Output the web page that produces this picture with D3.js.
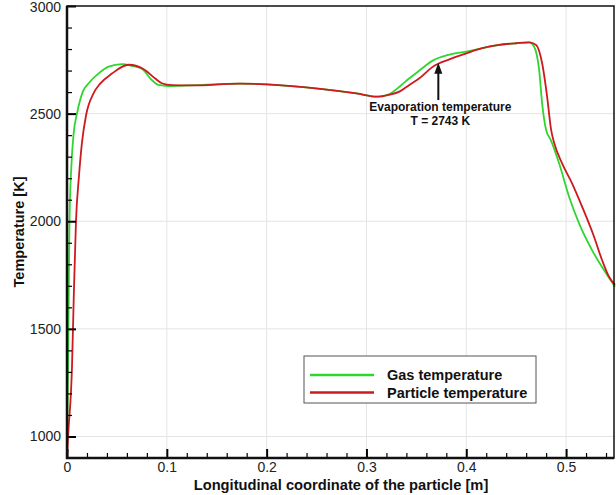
<!DOCTYPE html>
<html>
  <head>
    <script src="https://d3js.org/d3.v7.min.js"></script>
    <style>
      body { margin: 0; background: #fff; }
      text { font-family: Arial, "Liberation Sans", sans-serif; }
    </style>
  </head>
  <body>
<script type="text/javascript">
// values: [x in m, T in K]
var gasTemp = [
  [0, 920], [0.001, 1300], [0.0018, 1700], [0.0025, 2000], [0.0043, 2250],
  [0.0067, 2410], [0.010, 2500], [0.0157, 2600], [0.0217, 2641], [0.0317, 2687],
  [0.0417, 2718], [0.055, 2730], [0.065, 2722], [0.075, 2708], [0.085, 2656],
  [0.0917, 2633], [0.1017, 2628], [0.123, 2631], [0.173, 2639], [0.2, 2636],
  [0.256, 2614], [0.29, 2594], [0.311, 2579], [0.323, 2591], [0.333, 2625],
  [0.343, 2664], [0.353, 2700], [0.366, 2745], [0.383, 2774], [0.4, 2788],
  [0.416, 2804], [0.433, 2819], [0.45, 2827], [0.463, 2831], [0.468, 2811],
  [0.473, 2703], [0.476, 2548], [0.48, 2424], [0.4847, 2377], [0.493, 2269],
  [0.503, 2114], [0.513, 1990], [0.526, 1866], [0.54, 1758], [0.549, 1696]
];
var particleTemp = [
  [0, 905], [0.0013, 1016], [0.005, 1323], [0.0067, 1634], [0.009, 2000],
  [0.012, 2210], [0.015, 2365], [0.019, 2490], [0.0267, 2595], [0.033, 2638],
  [0.045, 2686], [0.0617, 2727], [0.078, 2703], [0.088, 2664], [0.095, 2641],
  [0.105, 2632], [0.125, 2631], [0.173, 2639], [0.2, 2636], [0.256, 2614],
  [0.29, 2594], [0.311, 2579], [0.323, 2588], [0.333, 2602], [0.343, 2633],
  [0.353, 2664], [0.366, 2716], [0.383, 2752], [0.4, 2780], [0.416, 2804],
  [0.433, 2819], [0.45, 2827], [0.463, 2831], [0.47, 2819], [0.476, 2734],
  [0.481, 2579], [0.485, 2424], [0.488, 2365], [0.496, 2269], [0.506, 2176],
  [0.516, 2068], [0.528, 1928], [0.536, 1820], [0.543, 1742], [0.549, 1704]
];
var seriesNames = ['Gas temperature', 'Particle temperature'];
var seriesColors = ['#2fd62f', '#cc1a1f'];
var xTicks = [0, 0.1, 0.2, 0.3, 0.4, 0.5];
var yTicks = [1000, 1500, 2000, 2500, 3000];
var annotation = {x: 0.372, from: 2563, to: 2736, lines: ['Evaporation temperature', 'T = 2743 K']};

var width = 616, height = 495;
var margin = {top: 6, right: 1, bottom: 37, left: 67};

var svg = d3.select('body').append('svg')
    .attr('width', width)
    .attr('height', height);

var x = d3.scaleLinear().domain([0, 0.549]).range([margin.left, width - margin.right]);
var y = d3.scaleLinear().domain([900, 3000]).range([height - margin.bottom, margin.top]);

// grid
svg.append('g').selectAll('line.gx')
    .data(xTicks.slice(1))
    .enter().append('line')
    .attr('x1', d => x(d)).attr('x2', d => x(d))
    .attr('y1', y(900)).attr('y2', y(3000))
    .attr('stroke', '#e4e4e4').attr('stroke-width', 1);
svg.append('g').selectAll('line.gy')
    .data(yTicks.slice(0, -1))
    .enter().append('line')
    .attr('x1', x(0)).attr('x2', x(0.549))
    .attr('y1', d => y(d)).attr('y2', d => y(d))
    .attr('stroke', '#e4e4e4').attr('stroke-width', 1);

// curves
var line = d3.line()
    .x(d => x(d[0]))
    .y(d => y(d[1]))
    .curve(d3.curveMonotoneX);

[gasTemp, particleTemp].forEach(function(data, i) {
  svg.append('path')
      .datum(data)
      .attr('d', line)
      .attr('fill', 'none')
      .attr('stroke', seriesColors[i])
      .attr('stroke-width', 1.8);
});

// axes, ticks inside
var xMinor = d3.range(0, 0.549, 0.02).filter(v => Math.abs(v * 10 - Math.round(v * 10)) > 1e-6);
var yMinor = d3.range(1000, 3000, 100).filter(v => v % 500 != 0);

svg.append('g')
    .attr('transform', 'translate(0,' + y(900) + ')')
    .call(d3.axisBottom(x).tickValues(xMinor).tickSize(-5).tickFormat(''))
    .call(g => g.select('.domain').remove())
    .selectAll('line').attr('stroke-width', 1.2);
var xAxis = svg.append('g')
    .attr('transform', 'translate(0,' + y(900) + ')')
    .call(d3.axisBottom(x).tickValues(xTicks).tickSize(-9).tickPadding(4)
      .tickFormat(d => d === 0 ? '0' : d3.format('.1f')(d)));
xAxis.select('.domain').remove();
xAxis.selectAll('line').attr('stroke-width', 2);
xAxis.selectAll('text').attr('font-size', 14).attr('fill', '#222');

svg.append('g')
    .attr('transform', 'translate(' + x(0) + ',0)')
    .call(d3.axisLeft(y).tickValues(yMinor).tickSize(-5).tickFormat(''))
    .call(g => g.select('.domain').remove())
    .selectAll('line').attr('stroke-width', 1.2);
var yAxis = svg.append('g')
    .attr('transform', 'translate(' + x(0) + ',0)')
    .call(d3.axisLeft(y).tickValues(yTicks).tickSize(-9).tickPadding(6).tickFormat(d3.format('d')));
yAxis.select('.domain').remove();
yAxis.selectAll('line').attr('stroke-width', 2);
yAxis.selectAll('text').attr('font-size', 14).attr('fill', '#222')
    .filter(d => d === 3000).attr('dy', '0.42em');

// frame
svg.append('rect')
    .attr('x', x(0)).attr('y', y(3000))
    .attr('width', x(0.549) - x(0) - 1).attr('height', y(900) - y(3000))
    .attr('fill', 'none').attr('stroke', '#111').attr('stroke-width', 1.5);
svg.append('path')
    .attr('d', 'M' + x(0) + ',' + y(3000) + 'V' + y(900) + 'H' + (x(0.549) - 1))
    .attr('fill', 'none').attr('stroke', '#111').attr('stroke-width', 2.5);

// axis titles
svg.append('text')
    .attr('x', (x(0) + x(0.549)) / 2).attr('y', 490)
    .attr('text-anchor', 'middle').attr('font-size', 14.7).attr('font-weight', 'bold')
    .attr('fill', '#111')
    .text('Longitudinal coordinate of the particle [m]');
svg.append('text')
    .attr('transform', 'translate(24,' + y(1950) + ') rotate(-90)')
    .attr('text-anchor', 'middle').attr('font-size', 14.5).attr('font-weight', 'bold')
    .attr('fill', '#111')
    .text('Temperature [K]');

// annotation arrow
var ax = x(annotation.x);
svg.append('line')
    .attr('x1', ax).attr('x2', ax)
    .attr('y1', y(annotation.from)).attr('y2', y(annotation.to) + 8)
    .attr('stroke', '#111').attr('stroke-width', 2);
svg.append('path')
    .attr('d', 'M' + ax + ',' + y(annotation.to) + 'L' + (ax - 4) + ',' + (y(annotation.to) + 11) +
      'L' + (ax + 4) + ',' + (y(annotation.to) + 11) + 'Z')
    .attr('fill', '#111');
svg.selectAll('text.ann')
    .data(annotation.lines)
    .enter().append('text')
    .attr('class', 'ann')
    .attr('x', ax + 2).attr('y', (d, i) => y(annotation.from) + 11 + i * 14)
    .attr('text-anchor', 'middle').attr('font-size', 12).attr('font-weight', 'bold')
    .attr('fill', '#111')
    .text(d => d);

// legend
var lg = svg.append('g').attr('transform', 'translate(304,356)');
lg.append('rect')
    .attr('width', 232).attr('height', 47)
    .attr('fill', '#fff').attr('stroke', '#555').attr('stroke-width', 1);
seriesNames.forEach(function(name, i) {
  lg.append('line')
      .attr('x1', 6).attr('x2', 70)
      .attr('y1', 19 + i * 17.5).attr('y2', 19 + i * 17.5)
      .attr('stroke', seriesColors[i]).attr('stroke-width', 2.5);
  lg.append('text')
      .attr('x', 83).attr('y', 24 + i * 17.5)
      .attr('font-size', 14.5).attr('font-weight', 'bold').attr('fill', '#111')
      .text(name);
});
</script>
  </body>
</html>
